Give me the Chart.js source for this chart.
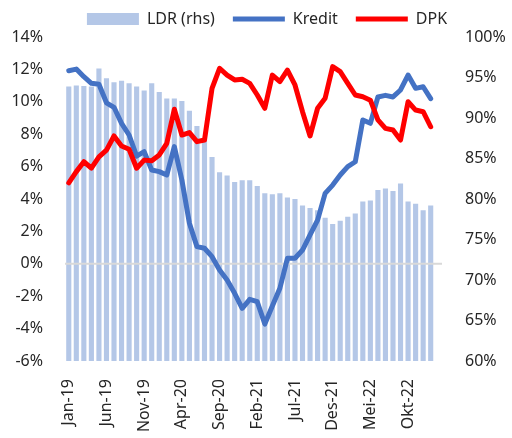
<!DOCTYPE html>
<html>
<head>
<meta charset="utf-8">
<script src="https://cdn.jsdelivr.net/npm/chart.js@4"></script>
<style>
  html, body { margin: 0; padding: 0; background: #fff; }
  #wrap { width: 512px; height: 438px; }
</style>
</head>
<body>
<div id="wrap"><canvas id="chart" width="512" height="438"></canvas></div>
<script>
// Monthly labels (last one is an empty slot at the right edge)
const months = [
  "Jan-19","Feb-19","Mar-19","Apr-19","Mei-19","Jun-19","Jul-19","Agu-19","Sep-19","Okt-19","Nov-19","Des-19",
  "Jan-20","Feb-20","Mar-20","Apr-20","Mei-20","Jun-20","Jul-20","Agu-20","Sep-20","Okt-20","Nov-20","Des-20",
  "Jan-21","Feb-21","Mar-21","Apr-21","Mei-21","Jun-21","Jul-21","Agu-21","Sep-21","Okt-21","Nov-21","Des-21",
  "Jan-22","Feb-22","Mar-22","Apr-22","Mei-22","Jun-22","Jul-22","Agu-22","Sep-22","Okt-22","Nov-22","Des-22",
  "Jan-23","Feb-23"
];

// LDR (%), right axis
const ldr = [93.9, 94.0, 93.95, 93.9, 96.1, 94.9, 94.4, 94.6, 94.3, 93.9,
  93.4, 94.3, 93.2, 92.4, 92.4, 92.1, 90.9, 89.0, 87.3, 85.2,
  83.3, 82.9, 82.1, 82.3, 82.3, 81.6, 80.7, 80.6, 80.7, 80.2,
  80.0, 79.2, 78.9, 78.6, 77.7, 76.9, 77.3, 77.8, 78.2, 79.7,
  79.8, 81.1, 81.3, 81.0, 81.9, 79.7, 79.4, 78.6, 79.2];

// Kredit growth (% yoy), left axis
const kredit = [11.92, 12.02, 11.55, 11.14, 11.08, 9.94, 9.66, 8.67, 7.95, 6.65,
  6.92, 5.79, 5.69, 5.48, 7.23, 5.17, 2.5, 1.06, 0.96, 0.44,
  -0.38, -1.0, -1.82, -2.75, -2.19, -2.34, -3.72, -2.6, -1.51, 0.34,
  0.34, 0.85, 1.78, 2.7, 4.35, 4.86, 5.48, 6.0, 6.3, 8.88,
  8.67, 10.3, 10.4, 10.3, 10.73, 11.65, 10.83, 10.93, 10.2];

// DPK growth (% yoy), left axis
const dpk = [5.0, 5.69, 6.3, 5.9, 6.6, 7.02, 7.89, 7.27, 7.07, 5.9,
  6.4, 6.36, 6.72, 7.44, 9.54, 7.95, 8.1, 7.54, 7.64, 10.83,
  12.07, 11.65, 11.35, 11.39, 11.14, 10.42, 9.6, 11.65, 11.24, 11.96,
  11.04, 9.39, 7.89, 9.6, 10.22, 12.17, 11.86, 11.14, 10.42, 10.31,
  10.1, 8.88, 8.36, 8.26, 7.64, 10.0, 9.49, 9.39, 8.46];

const font = { family: "'Noto Sans', sans-serif", size: 16 };
const textColor = "#262626";

// Zero line of the left axis, drawn over the bars but under the lines
const zeroLine = {
  id: "zeroLine",
  afterDatasetDraw(chart, args) {
    if (args.index !== 0) return;
    const y = chart.scales.y.getPixelForValue(0);
    const area = chart.chartArea;
    const c = chart.ctx;
    c.save();
    c.strokeStyle = "#d9d9d9";
    c.lineWidth = 2;
    c.beginPath();
    c.moveTo(area.left, y);
    c.lineTo(area.right, y);
    c.stroke();
    c.restore();
  }
};

const ctx = document.getElementById("chart").getContext("2d");

new Chart(ctx, {
  data: {
    labels: months,
    datasets: [
      {
        type: "bar",
        label: "LDR (rhs)",
        data: ldr,
        yAxisID: "y1",
        backgroundColor: "#b4c7e7",
        borderWidth: 0,
        barPercentage: 0.68,
        categoryPercentage: 1,
        pointStyle: "rect",
        order: 3
      },
      {
        type: "line",
        label: "Kredit",
        data: kredit,
        yAxisID: "y",
        borderColor: "#4472c4",
        backgroundColor: "#4472c4",
        borderWidth: 5,
        pointRadius: 0,
        tension: 0,
        borderJoinStyle: "round",
        borderCapStyle: "round",
        pointStyle: "line",
        order: 2
      },
      {
        type: "line",
        label: "DPK",
        data: dpk,
        yAxisID: "y",
        borderColor: "#ff0000",
        backgroundColor: "#ff0000",
        borderWidth: 5,
        pointRadius: 0,
        tension: 0,
        borderJoinStyle: "round",
        borderCapStyle: "round",
        pointStyle: "line",
        order: 1
      }
    ]
  },
  plugins: [zeroLine],
  options: {
    responsive: false,
    animation: false,
    layout: {
      padding: { top: -7, left: 10, right: -12, bottom: 0 }
    },
    plugins: {
      tooltip: { enabled: false },
      legend: {
        position: "top",
        labels: {
          usePointStyle: true,
          pointStyleWidth: 52,
          boxHeight: 12,
          padding: 18,
          color: textColor,
          font: font,
          sort: (a, b) => a.datasetIndex - b.datasetIndex
        }
      }
    },
    scales: {
      x: {
        grid: { display: false, drawTicks: false },
        border: { display: false },
        ticks: {
          autoSkip: false,
          minRotation: 90,
          maxRotation: 90,
          padding: 18,
          color: textColor,
          font: font,
          callback: function (value, index) {
            return index % 5 === 0 ? this.getLabelForValue(value) : "";
          }
        },
        afterFit: (scale) => { scale.height = 77; }
      },
      y: {
        position: "left",
        min: -6,
        max: 14,
        border: { display: false },
        grid: { display: false, drawTicks: false },
        ticks: {
          stepSize: 2,
          padding: 22,
          color: textColor,
          font: font,
          callback: (v) => v + "%"
        },
        afterFit: (scale) => { scale.width = 55; }
      },
      y1: {
        position: "right",
        min: 60,
        max: 100,
        border: { display: false },
        grid: { display: false, drawTicks: false },
        ticks: {
          stepSize: 5,
          padding: 23,
          color: textColor,
          font: font,
          callback: (v) => v + "%"
        },
        afterFit: (scale) => { scale.width = 82; }
      }
    }
  }
});
</script>
</body>
</html>
